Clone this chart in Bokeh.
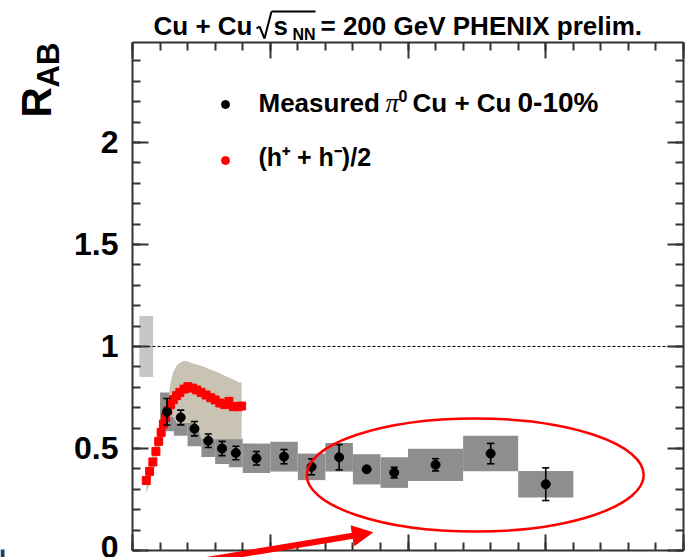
import math

from bokeh.embed import file_html
from bokeh.models import (Arrow, CustomJSTickFormatter, Label, LinearAxis, NormalHead,
                          Range1d, SingleIntervalTicker)
from bokeh.plotting import figure
from bokeh.resources import INLINE

# ---------------------------------------------------------------------------
# Data: nuclear modification factor R_AB vs pT (GeV/c), Cu+Cu at 200 GeV
# ---------------------------------------------------------------------------
# measured pi0, Cu+Cu 0-10 %
pi0_pt = [1.25, 1.75, 2.25, 2.75, 3.25, 3.75, 4.5, 5.5, 6.5, 7.5, 8.5, 9.5, 11.0, 13.0, 15.0]
pi0_raa = [0.680, 0.652, 0.597, 0.538, 0.500, 0.478, 0.452, 0.460, 0.410, 0.457,
           0.398, 0.382, 0.420, 0.475, 0.325]
pi0_stat = [0.065, 0.036, 0.035, 0.033, 0.035, 0.033, 0.033, 0.035, 0.039, 0.062,
            0.010, 0.026, 0.030, 0.050, 0.080]
pi0_sys = [0.095, 0.090, 0.086, 0.080, 0.076, 0.070, 0.072, 0.073, 0.065, 0.070,
           0.074, 0.075, 0.079, 0.087, 0.065]
pi0_bin_half = [0.25, 0.25, 0.25, 0.25, 0.25, 0.25, 0.5, 0.5, 0.5, 0.5, 0.5, 0.5, 1.0, 1.0, 1.0]

# charged hadrons (h+ + h-)/2 with their systematic band
h_pt = [0.50, 0.62, 0.74, 0.85, 0.95, 1.04, 1.12, 1.20, 1.28, 1.38, 1.48, 1.60, 1.72, 1.87,
        2.01, 2.17, 2.33, 2.49, 2.67, 2.84, 3.00, 3.17, 3.35, 3.50, 3.66, 3.83, 3.96]
h_raa = [0.343, 0.388, 0.434, 0.486, 0.535, 0.579, 0.620, 0.652, 0.685, 0.715, 0.739, 0.759,
         0.775, 0.791, 0.803, 0.796, 0.787, 0.775, 0.762, 0.749, 0.738, 0.723, 0.715, 0.731,
         0.705, 0.705, 0.708]
h_band_hi = [0.390, 0.430, 0.475, 0.525, 0.570, 0.615, 0.655, 0.690, 0.725, 0.824, 0.875, 0.905,
             0.920, 0.930, 0.926, 0.918, 0.912, 0.905, 0.896, 0.886, 0.878, 0.869, 0.857, 0.848,
             0.838, 0.826, 0.824]
h_band_lo = [0.280, 0.330, 0.380, 0.430, 0.480, 0.530, 0.575, 0.610, 0.640, 0.655, 0.655, 0.625,
             0.625, 0.625, 0.625, 0.625, 0.625, 0.548, 0.545, 0.545, 0.545, 0.545, 0.545, 0.545,
             0.545, 0.545, 0.545]

# overall normalisation uncertainty drawn at R = 1
norm_center = 1.0
norm_unc = 0.15
norm_pt_lo, norm_pt_hi = 0.25, 0.75

# axis box: pT 0-20 GeV/c, R_AB 0-2.49
X0, X1 = 0.0, 20.0
Y0, Y1 = 0.0, 2.49

# ---------------------------------------------------------------------------
# Canvas geometry: the axis box sits at these canvas pixels, and the plotting
# area covers the whole canvas so that titles and the arrow can sit outside it
# ---------------------------------------------------------------------------
W, H = 688, 557
FL, FR, FT, FB = 132, 683, 42, 550


def dx(px):
    return X0 + (px - FL) * (X1 - X0) / (FR - FL)


def dy(py):
    return Y0 + (FB - py) * (Y1 - Y0) / (FB - FT)


FONT = "Liberation Sans"
AXIS_COLOR = "#333333"
BOX_GRAY = "#8e8e8e"
BAND_TAN = "#c9c3b4"
NORM_GRAY = "#c6c6c6"
RED = "#ff0000"

p = figure(width=W, height=H, x_range=Range1d(dx(0), dx(W)), y_range=Range1d(dy(H), dy(0)),
           output_backend="svg", toolbar_location=None,
           x_axis_location=None, y_axis_location=None,
           min_border_left=0, min_border_right=0, min_border_top=0, min_border_bottom=0)
p.outline_line_color = None
p.grid.visible = False
p.background_fill_color = "white"
p.border_fill_color = "white"


def make_axis(interval, at, bounds, labels):
    ax = LinearAxis(fixed_location=at, bounds=bounds)
    ax.ticker = SingleIntervalTicker(interval=interval, num_minor_ticks=5)
    ax.axis_line_color = AXIS_COLOR
    ax.axis_line_width = 2
    ax.major_tick_line_color = AXIS_COLOR
    ax.minor_tick_line_color = AXIS_COLOR
    ax.major_tick_line_width = 2
    ax.minor_tick_line_width = 2
    ax.major_tick_in = 16
    ax.major_tick_out = 0
    ax.minor_tick_in = 8
    ax.minor_tick_out = 0
    if labels:
        ax.formatter = CustomJSTickFormatter(code="return String(tick)")
        ax.major_label_text_font = FONT
        ax.major_label_text_font_style = "bold"
        ax.major_label_text_font_size = "32px"
        ax.major_label_text_color = "black"
        ax.major_label_standoff = 14
    else:
        ax.formatter = CustomJSTickFormatter(code="return ''")
        ax.major_label_text_font_size = "0px"
        ax.major_label_standoff = 0
    return ax


p.add_layout(make_axis(5, Y0, (X0, X1), False), "below")
p.add_layout(make_axis(5, Y1, (X0, X1), False), "above")
p.add_layout(make_axis(0.5, X0, (Y0, Y1), True), "left")
p.add_layout(make_axis(0.5, X1, (Y0, Y1), False), "right")

# ---------------------------------------------------------------------------
# Marks
# ---------------------------------------------------------------------------
# normalisation box
p.quad(left=[norm_pt_lo], right=[norm_pt_hi],
       bottom=[norm_center - norm_unc], top=[norm_center + norm_unc],
       fill_color=NORM_GRAY, line_color=None)

# pi0 systematic boxes
p.quad(left=[x - w for x, w in zip(pi0_pt, pi0_bin_half)],
       right=[x + w for x, w in zip(pi0_pt, pi0_bin_half)],
       bottom=[y - s for y, s in zip(pi0_raa, pi0_sys)],
       top=[y + s for y, s in zip(pi0_raa, pi0_sys)],
       fill_color=BOX_GRAY, line_color=None)

# charged-hadron systematic band
p.varea(x=h_pt, y1=h_band_lo, y2=h_band_hi, fill_color=BAND_TAN)

# unity line across the axis box
p.segment(x0=[X0], y0=[1.0], x1=[X1], y1=[1.0], line_color="black",
          line_width=1, line_dash="3 2")

# charged hadrons
p.scatter(h_pt, h_raa, marker="square", size=8, fill_color=RED, line_color=RED)

# pi0 statistical error bars with caps
cap = 0.13
p.segment(x0=pi0_pt, y0=[y - e for y, e in zip(pi0_raa, pi0_stat)],
          x1=pi0_pt, y1=[y + e for y, e in zip(pi0_raa, pi0_stat)],
          line_color="black", line_width=1.6)
for sign in (-1, 1):
    ys = [y + sign * e for y, e in zip(pi0_raa, pi0_stat)]
    p.segment(x0=[x - cap for x in pi0_pt], y0=ys, x1=[x + cap for x in pi0_pt], y1=ys,
              line_color="black", line_width=1.6)
p.scatter(pi0_pt, pi0_raa, marker="circle", size=9, fill_color="black", line_color="black")

# red highlight ellipse and pointer arrow
ell_x, ell_y, ell_w, ell_h = 12.44, 0.370, 12.23, 0.554
p.ellipse(x=[ell_x], y=[ell_y], width=[ell_w], height=[ell_h],
          fill_color=None, line_color=RED, line_width=2.5)
p.add_layout(Arrow(end=NormalHead(size=20, fill_color=RED, line_color=RED),
                   x_start=dx(185), y_start=dy(563), x_end=dx(372), y_end=dy(532),
                   line_color=RED, line_width=6))

# small slide-corner block at the lower left
p.quad(left=[dx(0)], right=[dx(4)], bottom=[dy(557)], top=[dy(549)],
       fill_color="#1f3f66", line_color=None)

# ---------------------------------------------------------------------------
# Legend
# ---------------------------------------------------------------------------
leg_x = dx(225)
leg_y = [dy(104), dy(160)]
p.scatter([leg_x], [leg_y[0]], marker="circle", size=8, color="black")
p.scatter([leg_x], [leg_y[1]], marker="circle", size=8, color=RED)

# the SVG text baseline sits about 0.35 em below the anchor, so anchors are
# raised by that amount (along the text's own "up" direction)
BASELINE_SHIFT = 0.35


def text(s, px, py, size, style="bold", font=FONT, rotated=False):
    shift = BASELINE_SHIFT * size
    if rotated:
        px, angle = px - shift, math.pi / 2
    else:
        py, angle = py - shift, 0.0
    p.add_layout(Label(x=dx(px), y=dy(py), text=s, text_font=font,
                       text_font_size=f"{size}px", text_font_style=style,
                       text_color="black", text_baseline="alphabetic",
                       text_align="left", angle=angle))


text("Measured", 258, 112, 26)
text("\u03c0", 385, 112, 27, style="italic", font="Liberation Serif")
text("0", 398, 101, 16)
text("Cu + Cu", 412, 112, 26)
text("0-10%", 517, 112, 28)
text("(h\u207a + h\u207b)/2", 258, 165, 25)

# title
text("Cu + Cu", 153, 35, 26)
text("s", 273, 35, 26)
text("NN", 292, 40, 16)
text("= 200 GeV PHENIX prelim.", 320, 35, 26)
radical = [(256, 28), (259, 26), (264, 38), (271, 11), (315, 11)]
for (xa, ya), (xb, yb) in zip(radical[:-1], radical[1:]):
    p.add_layout(Arrow(start=None, end=None, x_start=dx(xa), y_start=dy(ya),
                       x_end=dx(xb), y_end=dy(yb), line_color="black", line_width=2))

# y-axis title R_AB
text("R", 51, 117, 42, rotated=True)
text("AB", 59, 87, 31, rotated=True)

open("out.html", "w").write(file_html(p, INLINE))
